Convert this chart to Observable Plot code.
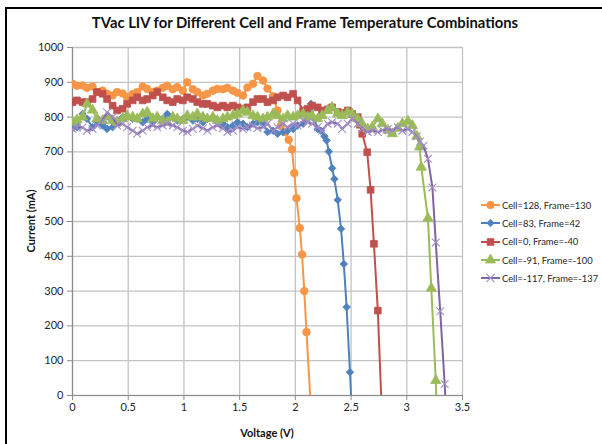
<!DOCTYPE html>
<html><head><meta charset="utf-8">
<script src="https://cdn.jsdelivr.net/npm/d3@7"></script>
<script src="https://cdn.jsdelivr.net/npm/@observablehq/plot@0.6"></script>
<style>
html,body{margin:0;padding:0;background:#fff;overflow:hidden;}
#wrap{position:relative;width:602px;height:444px;overflow:hidden;font-family:Lato,"Open Sans",sans-serif;color:#262626;}
#frame{position:absolute;left:5px;top:7px;width:660px;height:500px;border:2px solid #000;box-sizing:border-box;}
#title{position:absolute;left:6px;width:598px;top:13px;text-align:center;font-weight:bold;font-size:14.8px;color:#111;white-space:nowrap;}
#chart{position:absolute;left:0;top:0;}
#ylabel{position:absolute;left:30px;top:221px;transform:translate(-50%,-50%) rotate(-90deg);font-weight:bold;font-size:11px;white-space:nowrap;color:#111;}
#xlabel{position:absolute;left:267px;top:432px;transform:translate(-50%,-50%);font-weight:bold;font-size:11px;white-space:nowrap;color:#111;}
#legend{position:absolute;left:481px;top:196px;}
.item{display:flex;align-items:center;height:18.3px;font-size:9.4px;white-space:nowrap;color:#262626;}
.item svg{margin-right:1px;}
</style>
</head><body>
<div id="wrap">
  <div id="frame"></div>
  <div id="chart"></div>
  <div id="title">TVac LIV for Different Cell and Frame Temperature Combinations</div>
  <div id="ylabel">Current (mA)</div>
  <div id="xlabel">Voltage (V)</div>
  <div id="legend"></div>
</div>
<script>
// ---- data ----
const xTicks = [0, 0.5, 1, 1.5, 2, 2.5, 3, 3.5];
const yTicks = [0, 100, 200, 300, 400, 500, 600, 700, 800, 900, 1000];
const seriesNames = ["Cell=128, Frame=130", "Cell=83, Frame=42", "Cell=0, Frame=-40", "Cell=-91, Frame=-100", "Cell=-117, Frame=-137"];
const seriesColors = ["#F79646", "#4F81BD", "#C0504D", "#9BBB59", "#8064A2"];
const seriesSymbols = ["circle", "diamond2", "square", "triangle", "times"];

// common sampling voltages of the flat part (V)
const vGrid = [0,0.04,0.09,0.13,0.18,0.22,0.27,0.31,0.36,0.40,0.45,0.49,0.54,0.58,0.63,0.67,0.72,0.76,0.81,0.85,
  0.90,0.94,0.99,1.03,1.08,1.12,1.17,1.21,1.26,1.30,1.35,1.39,1.44,1.48,1.53,1.57,1.62,1.66,1.71,1.75,
  1.80,1.84,1.89,1.93,1.98,2.02,2.07,2.11,2.15,2.20,2.24,2.29,2.33,2.38,2.42,2.47,2.51,2.56,2.60,2.65,
  2.69,2.74,2.78,2.83,2.87,2.92,2.96,3.01,3.05];

const v128 = vGrid.slice(0, 42).concat([1.87,1.91,1.94,1.97,1.99,2.01,2.04,2.06,2.08,2.10,2.14]);
const i128 = [896,890,891,884,888,872,876,867,862,872,868,857,866,872,888,881,872,876,884,890,
  880,886,876,900,880,872,862,867,876,881,880,884,876,870,862,885,896,918,905,882,860,819,
  776,757,735,707,639,567,481,405,300,182,-40];

const v83 = vGrid.slice(0, 48).concat([2.14,2.17,2.20,2.23,2.26,2.28,2.30,2.33,2.35,2.38,2.41,2.435,2.46,2.49,2.51]);
const i83 = [781,771,809,795,771,785,776,766,771,790,800,804,795,795,785,795,785,800,795,809,
  800,790,795,800,790,795,785,795,800,790,781,771,776,785,781,771,781,785,785,757,
  761,752,757,761,766,776,781,800,
  838,795,766,761,745,733,701,653,622,562,479,378,254,67,-70];

const v0 = vGrid.slice(0, 58).concat([2.58,2.60,2.645,2.675,2.705,2.74,2.78]);
const i0 = [843,848,843,843,852,872,867,852,833,819,824,838,848,857,848,852,862,872,857,848,
  843,852,848,857,852,843,838,838,833,828,833,828,833,828,824,828,843,852,852,843,
  848,857,862,857,867,848,819,824,833,828,819,822,828,815,812,819,809,800,
  778,752,699,591,436,244,-80];

const vm91 = vGrid.slice(0, 69).concat([3.09,3.115,3.13,3.19,3.22,3.26,3.28]);
const im91 = [785,792,800,838,820,795,790,800,790,785,795,804,800,795,809,814,795,800,790,785,
  800,795,790,804,800,809,800,795,800,790,795,800,804,809,819,814,804,800,795,800,
  809,804,795,804,800,804,809,800,804,795,804,819,828,810,804,814,809,795,781,766,
  771,795,781,762,752,768,781,788,776,
  745,714,656,509,308,43,-150];

const vm117 = vGrid.slice(0, 69).concat([3.09,3.12,3.15,3.19,3.23,3.26,3.30,3.34,3.36]);
const im117 = [766,770,770,761,766,776,790,814,800,776,781,771,761,752,761,771,776,771,776,781,
  776,771,761,757,766,776,768,761,771,776,768,757,761,771,766,771,776,768,771,781,
  761,771,781,771,781,776,790,785,781,771,761,781,785,781,766,781,795,781,766,757,
  761,757,762,766,762,771,761,766,757,
  745,730,718,680,598,440,242,33,-100];

const volts = [v128, v83, v0, vm91, vm117];
const currents = [i128, i83, i0, im91, im117];

// ---- chart ----
const series = seriesNames.map((name, k) => ({
  name, color: seriesColors[k], symbol: seriesSymbols[k],
  rows: volts[k].map((v, j) => ({v, i: currents[k][j]}))
}));

const gridStyle = {stroke: "#c3c3c3", strokeOpacity: 1, strokeWidth: 1.3};
const marks = [
  Plot.gridY(yTicks, gridStyle),
  Plot.gridX(xTicks, gridStyle),
  Plot.ruleX([0], {stroke: "#8c8c8c", strokeWidth: 1.2}),
  Plot.ruleY([0], {stroke: "#8c8c8c", strokeWidth: 1.2}),
  Plot.axisY(yTicks, {tickSize: 5, tickPadding: 4, stroke: "#8c8c8c", tickFormat: d => String(d), label: null}),
  Plot.axisX(xTicks, {tickSize: 5, tickPadding: 3, stroke: "#8c8c8c", tickFormat: d => String(d), label: null})
];
for (const s of series) {
  marks.push(Plot.line(s.rows, {x: "v", y: "i", stroke: s.color, strokeWidth: 2, clip: true, curve: "linear"}));
  if (s.symbol === "times") {
    marks.push(Plot.dot(s.rows, {x: "v", y: "i", symbol: "times", r: 3.6, stroke: "#A28FCB", strokeWidth: 1.1, clip: true}));
  } else {
    marks.push(Plot.dot(s.rows, {x: "v", y: "i", symbol: s.symbol, r: s.symbol === "diamond2" ? 3.4 : 3.8, fill: s.color, stroke: s.color, strokeWidth: 0.8, clip: true}));
  }
}

const chart = Plot.plot({
  width: 602, height: 444,
  marginLeft: 72, marginRight: 140, marginTop: 47, marginBottom: 49,
  x: {domain: [0, 3.5]},
  y: {domain: [0, 1000]},
  style: {fontFamily: "Lato, 'Open Sans', sans-serif", fontSize: "11px", color: "#262626", background: "transparent"},
  marks
});
document.getElementById("chart").appendChild(chart);

// ---- legend ----
const legend = d3.select("#legend");
const symMap = {circle: d3.symbolCircle, diamond2: d3.symbolDiamond2, square: d3.symbolSquare, triangle: d3.symbolTriangle, times: d3.symbolTimes};
for (const s of series) {
  const row = legend.append("div").attr("class", "item");
  const svg = row.append("svg").attr("width", 20).attr("height", 12);
  svg.append("line").attr("x1", 0).attr("x2", 19).attr("y1", 6).attr("y2", 6).attr("stroke", s.color).attr("stroke-width", 2);
  const r = s.symbol === "diamond2" ? 3.4 : 3.8;
  const p = svg.append("path").attr("transform", "translate(9.5,6)").attr("d", d3.symbol(symMap[s.symbol], Math.PI * r * r)());
  if (s.symbol === "times") p.attr("fill", "none").attr("stroke", "#A28FCB").attr("stroke-width", 1.1);
  else p.attr("fill", s.color).attr("stroke", s.color).attr("stroke-width", 0.8);
  row.append("span").text(s.name);
}
</script>
</body></html>
